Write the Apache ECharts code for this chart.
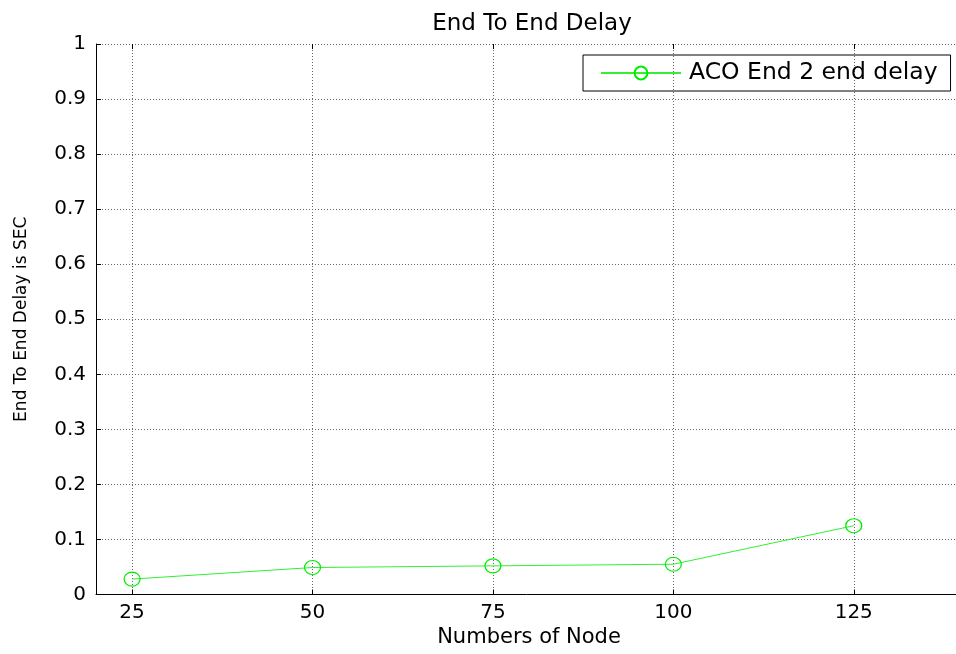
<!DOCTYPE html>
<html><head><meta charset="utf-8">
<script src="https://cdn.jsdelivr.net/npm/echarts@6/dist/echarts.min.js"></script>
<style>html,body{margin:0;padding:0;background:#fff}#c{width:956px;height:654px}</style>
</head><body><div id="c"></div>
<script>
const nodes = [25, 50, 75, 100, 125];
const delay = [0.028, 0.049, 0.052, 0.055, 0.125];
const xTicks = [25, 50, 75, 100, 125];
const seriesName = 'ACO End 2 end delay';

const F = '"DejaVu Sans", sans-serif';
const chart = echarts.init(document.getElementById('c'), null, {renderer: 'canvas'});
const gridLine = {show: true, lineStyle: {color: '#666', type: [1, 2], width: 1}};
chart.setOption({
  animation: false,
  title: {text: 'End To End Delay', left: 527, top: 8, textAlign: 'center',
    textStyle: {fontFamily: F, fontSize: 23, fontWeight: 'normal', color: '#000'}},
  legend: {left: 583, top: 55, orient: 'horizontal', data: [seriesName],
    borderColor: '#000', borderWidth: 1, padding: [6, 13, 6, 17],
    itemWidth: 80, itemHeight: 16, itemGap: 0,
    textStyle: {fontFamily: F, fontSize: 23.5, color: '#000', padding: [0, 0, 0, 3]}},
  grid: {left: 96, top: 44, width: 866, height: 550.5, outerBoundsMode: 'none'},
  xAxis: [{
    type: 'value', min: 20, max: 140, position: 'bottom',
    name: 'Numbers of Node', nameLocation: 'middle', nameGap: 33,
    nameTextStyle: {fontFamily: F, fontSize: 21, color: '#000'},
    axisLine: {show: true, lineStyle: {color: '#000', width: 1}},
    axisTick: {show: true, inside: true, length: 5, customValues: xTicks, lineStyle: {color: '#000'}},
    axisLabel: {customValues: xTicks, fontFamily: F, fontSize: 20, color: '#000', margin: 8},
    splitLine: gridLine
  }, {
    type: 'value', min: 20, max: 140, position: 'top',
    axisLine: {show: false},
    axisTick: {show: true, inside: true, length: 5, customValues: xTicks, lineStyle: {color: '#000'}},
    axisLabel: {show: false}, splitLine: {show: false}
  }],
  yAxis: [{
    type: 'value', min: 0, max: 1, interval: 0.1,
    name: 'End To End Delay is SEC', nameLocation: 'middle', nameGap: 66,
    nameTextStyle: {fontFamily: F, fontSize: 17, color: '#000'},
    axisLine: {show: true, lineStyle: {color: '#000', width: 1}},
    axisTick: {show: true, inside: true, length: 5, lineStyle: {color: '#000'}},
    axisLabel: {fontFamily: F, fontSize: 20, color: '#000', margin: 10,
      formatter: v => (Math.round(v * 10) / 10).toString()},
    splitLine: gridLine
  }],
  series: [{
    name: seriesName, type: 'line',
    data: nodes.map((n, i) => [n, delay[i]]),
    symbol: 'circle', symbolSize: [16, 14], showAllSymbol: true,
    itemStyle: {color: 'rgba(255,255,255,0)', borderColor: '#00ee00', borderWidth: 1.2},
    lineStyle: {color: '#33ee33', width: 1, type: 'solid'}
  }]
});
</script></body></html>
